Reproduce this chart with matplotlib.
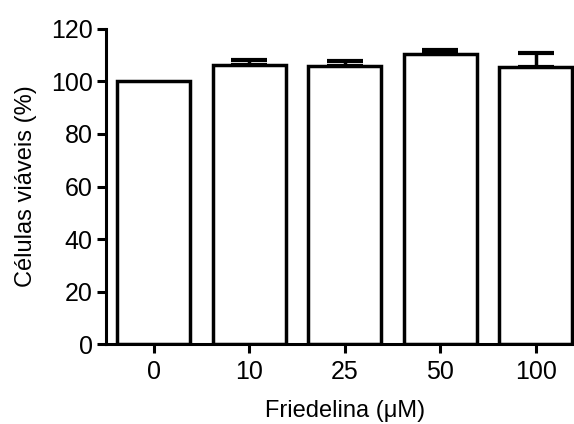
import matplotlib
matplotlib.use("Agg")
import matplotlib.pyplot as plt
import numpy as np

categories = ["0", "10", "25", "50", "100"]
values = [100.0, 106.3, 105.9, 110.4, 105.4]
errors = [0.0, 1.8, 1.7, 1.4, 5.4]
yticks = [0, 20, 40, 60, 80, 100, 120]

plt.rcParams['font.family'] = ['Liberation Sans', 'DejaVu Sans']

fig = plt.figure(figsize=(5.74, 4.24), dpi=100)
ax = fig.add_axes([106/574, (424-344.3)/424, (583.6-106)/574, (344.3-28.7)/424])

x = np.arange(len(categories))
lw = 2.5
ax.bar(x, values, width=0.765, color="white", edgecolor="black", linewidth=lw, zorder=2)
ax.errorbar(x[1:], values[1:], yerr=[np.zeros(len(errors)-1), errors[1:]], fmt="none",
            ecolor="black", elinewidth=lw, capsize=13.3, capthick=3.0, zorder=1)

ax.set_xlim(-0.5, 4.5)
ax.set_ylim(0, 120)
ax.set_xticks(x)
ax.set_xticklabels(categories)
ax.set_yticks(yticks)
for s in ["top", "right"]:
    ax.spines[s].set_visible(False)
for s in ["left", "bottom"]:
    ax.spines[s].set_linewidth(2.2)
ax.spines["left"].set_bounds(0, 120)
ax.tick_params(axis="both", direction="out", length=6.5, width=2.2, labelsize=18, pad=3)
ax.tick_params(axis="x", pad=5)
ax.set_xlabel("Friedelina (\u03bcM)", fontsize=17, labelpad=11)
ax.set_ylabel("Células viáveis (%)", fontsize=17, labelpad=10)

fig.savefig("out.png", dpi=100)
